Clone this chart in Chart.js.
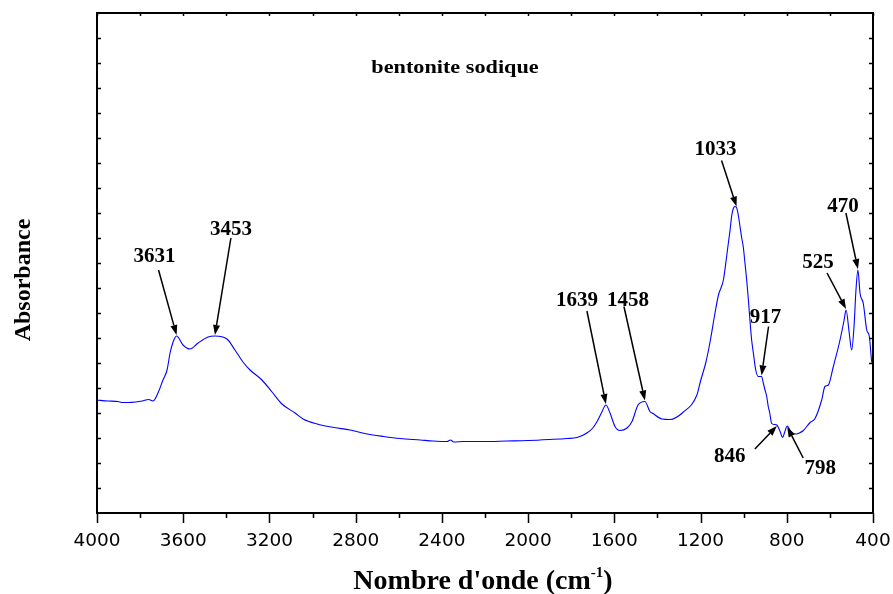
<!DOCTYPE html>
<html>
<head>
<meta charset="utf-8">
<script src="https://cdn.jsdelivr.net/npm/chart.js@4/dist/chart.umd.min.js"></script>
<style>
  body { margin: 0; background: #fff; }
</style>
</head>
<body>
<canvas id="ftir" width="893" height="594"></canvas>
<script>
// FTIR spectrum of sodium bentonite (wavenumber in cm-1, absorbance in arbitrary units)
const wavenumbers = [
  4000, 3950, 3903, 3880, 3856, 3820, 3790, 3760, 3740, 3717, 3694, 3675, 3661, 3647, 3631,
  3601, 3569, 3531, 3485, 3453, 3397, 3360, 3323, 3290, 3235, 3188, 3142, 3081, 3044, 2979,
  2900, 2826, 2747, 2670, 2594, 2500, 2441, 2376, 2360, 2345, 2300, 2200, 2100, 2000, 1900,
  1820, 1773, 1727, 1700, 1680, 1660, 1639, 1620, 1597, 1574, 1541, 1518, 1490, 1458, 1435,
  1421, 1379, 1342, 1282, 1217, 1200, 1175, 1156, 1133, 1117, 1094, 1079, 1071, 1063, 1056,
  1048, 1040, 1033, 1025, 1017, 1009, 1002, 994, 986, 978, 971, 963, 955, 944, 932,
  917, 909, 901, 893, 886, 879, 870, 858, 846, 831, 819, 811, 798, 788, 776, 754,
  742, 723, 692, 669, 638, 623, 607, 584, 553, 534, 525, 510, 499, 488, 479,
  470, 460, 445, 429, 417, 406, 400
];
const absorbance = [
  0.226, 0.224, 0.223, 0.221, 0.221, 0.222, 0.224, 0.227, 0.224, 0.240, 0.266, 0.286, 0.320, 0.342, 0.354,
  0.336, 0.328, 0.340, 0.352, 0.354, 0.348, 0.326, 0.302, 0.286, 0.266, 0.242, 0.218, 0.200, 0.188, 0.178,
  0.171, 0.166, 0.158, 0.153, 0.149, 0.146, 0.144, 0.143, 0.146, 0.142, 0.143, 0.143, 0.144, 0.145, 0.147,
  0.149, 0.151, 0.160, 0.170, 0.183, 0.200, 0.216, 0.200, 0.173, 0.165, 0.170, 0.183, 0.216, 0.223, 0.203,
  0.199, 0.188, 0.187, 0.201, 0.236, 0.264, 0.302, 0.342, 0.400, 0.436, 0.466, 0.513, 0.540, 0.566, 0.593,
  0.609, 0.613, 0.611, 0.596, 0.573, 0.550, 0.533, 0.500, 0.466, 0.426, 0.386, 0.346, 0.320, 0.286, 0.273,
  0.273, 0.260, 0.246, 0.233, 0.213, 0.200, 0.179, 0.177, 0.176, 0.163, 0.151, 0.160, 0.174, 0.168, 0.160, 0.158,
  0.160, 0.165, 0.181, 0.189, 0.226, 0.253, 0.256, 0.293, 0.346, 0.386, 0.406, 0.359, 0.326, 0.373, 0.446,
  0.486, 0.439, 0.419, 0.366, 0.353, 0.303, 0.296
];
const xTickValues = [4000, 3600, 3200, 2800, 2400, 2000, 1600, 1200, 800, 400];

// labelled bands
const peakNames = ['3631', '3453', '1639', '1458', '1033', '917', '846', '798', '525', '470'];
const peakWn = [3631, 3453, 1639, 1458, 1033, 917, 846, 798, 525, 470];

// arrow tail and label centre, in px relative to the band's point: [tailDx, tailDy, labelDx, labelDy]
const calloutOffsets = [
  [-18, -66, -22, -81],
  [16, -98, 16, -108],
  [-19, -94, -29, -106],
  [-21, -95, -17, -103],
  [-15, -47, -21, -60],
  [7, -50, 4, -61],
  [-22, 24, -47, 30],
  [16, 32, 33, 41],
  [-19, -37, -28, -49],
  [-12, -57, -15, -65]
];

function drawArrow(ctx, x0, y0, x1, y1) {
  const ang = Math.atan2(y1 - y0, x1 - x0);
  const head = 10, half = 3.5;
  const bx = x1 - head * Math.cos(ang), by = y1 - head * Math.sin(ang);
  ctx.beginPath();
  ctx.moveTo(x0, y0);
  ctx.lineTo(bx, by);
  ctx.lineWidth = 1.5;
  ctx.stroke();
  ctx.beginPath();
  ctx.moveTo(x1, y1);
  ctx.lineTo(bx - half * Math.sin(ang), by + half * Math.cos(ang));
  ctx.lineTo(bx + half * Math.sin(ang), by - half * Math.cos(ang));
  ctx.closePath();
  ctx.fill();
}

// box, tick marks, axis titles, sample name and band callouts
const decorations = {
  id: 'decorations',
  afterDraw(chart) {
    const { ctx, chartArea: a, scales: { x, y } } = chart;
    ctx.save();
    ctx.strokeStyle = '#000';
    ctx.fillStyle = '#000';

    // tick marks
    ctx.lineWidth = 1.5;
    ctx.beginPath();
    for (let w = 4000; w >= 400; w -= 200) {
      const px = Math.round(x.getPixelForValue(w)) + 0.5;
      const major = xTickValues.includes(w);
      ctx.moveTo(px, a.bottom);
      ctx.lineTo(px, a.bottom + (major ? 10 : 5));
      ctx.moveTo(px, a.top);
      ctx.lineTo(px, a.top + 3);
    }
    for (let v = 0.05; v < 1; v += 0.05) {
      const py = Math.round(y.getPixelForValue(v)) + 0.5;
      ctx.moveTo(a.left, py);
      ctx.lineTo(a.left + 4, py);
      ctx.moveTo(a.right, py);
      ctx.lineTo(a.right - 4, py);
    }
    ctx.stroke();

    // frame
    ctx.lineWidth = 2;
    ctx.strokeRect(a.left, a.top, a.right - a.left, a.bottom - a.top);

    // x title with superscript
    const main = "Nombre d'onde (cm";
    const big = 'bold 28px "Liberation Serif"', small = 'bold 15px "Liberation Serif"';
    ctx.textBaseline = 'alphabetic';
    ctx.textAlign = 'left';
    ctx.font = big;
    const wMain = ctx.measureText(main).width;
    const wClose = ctx.measureText(')').width;
    ctx.font = small;
    const wSup = ctx.measureText('-1').width;
    let tx = 483 - (wMain + wSup + wClose) / 2;
    const base = 589;
    ctx.font = big;
    ctx.fillText(main, tx, base);
    tx += wMain;
    ctx.font = small;
    ctx.fillText('-1', tx, base - 12);
    tx += wSup;
    ctx.font = big;
    ctx.fillText(')', tx, base);

    // y title
    ctx.save();
    ctx.translate(30, (a.top + a.bottom) / 2 + 17);
    ctx.rotate(-Math.PI / 2);
    ctx.textAlign = 'center';
    ctx.font = 'bold 24px "Liberation Serif"';
    ctx.fillText('Absorbance', 0, 0);
    ctx.restore();

    // sample name
    ctx.save();
    ctx.translate(a.left + 358, a.top + 60);
    ctx.scale(1.17, 1);
    ctx.textAlign = 'center';
    ctx.font = 'bold 19px "Liberation Serif"';
    ctx.fillText('bentonite sodique', 0, 0);
    ctx.restore();

    // band callouts
    ctx.font = 'bold 21px "Liberation Serif"';
    ctx.textAlign = 'center';
    peakWn.forEach((w, i) => {
      const px = x.getPixelForValue(w);
      const py = y.getPixelForValue(absorbance[wavenumbers.indexOf(w)]);
      const [tdx, tdy, ldx, ldy] = calloutOffsets[i];
      drawArrow(ctx, px + tdx, py + tdy, px, py + (tdy < 0 ? -1 : 1));
      ctx.fillText(peakNames[i], px + ldx, py + ldy + 7);
    });
    ctx.restore();
  }
};

const ctx = document.getElementById('ftir').getContext('2d');
new Chart(ctx, {
  type: 'line',
  data: {
    datasets: [{
      data: wavenumbers.map((w, i) => ({ x: w, y: absorbance[i] })),
      borderColor: '#0000ff',
      borderWidth: 1.1,
      pointRadius: 0,
      cubicInterpolationMode: 'monotone',
      fill: false
    }]
  },
  options: {
    responsive: false,
    animation: false,
    layout: { padding: { top: 13, right: 20, left: 0, bottom: 0 } },
    plugins: { legend: { display: false }, tooltip: { enabled: false } },
    scales: {
      x: {
        type: 'linear',
        reverse: true,
        min: 400,
        max: 4000,
        afterBuildTicks: s => { s.ticks = xTickValues.map(v => ({ value: v })); },
        ticks: {
          autoSkip: false,
          maxRotation: 0,
          padding: 17,
          color: '#000',
          font: { family: 'DejaVu Sans', size: 18.5 },
          callback: v => String(v)
        },
        grid: { display: false, drawTicks: false },
        border: { display: false },
        afterFit: s => { s.height = 81; s.paddingLeft = 0; s.paddingRight = 0; }
      },
      y: {
        min: 0,
        max: 1,
        ticks: { display: false },
        grid: { display: false, drawTicks: false },
        border: { display: false },
        afterFit: s => { s.width = 97; }
      }
    }
  },
  plugins: [decorations]
});
</script>
</body>
</html>
